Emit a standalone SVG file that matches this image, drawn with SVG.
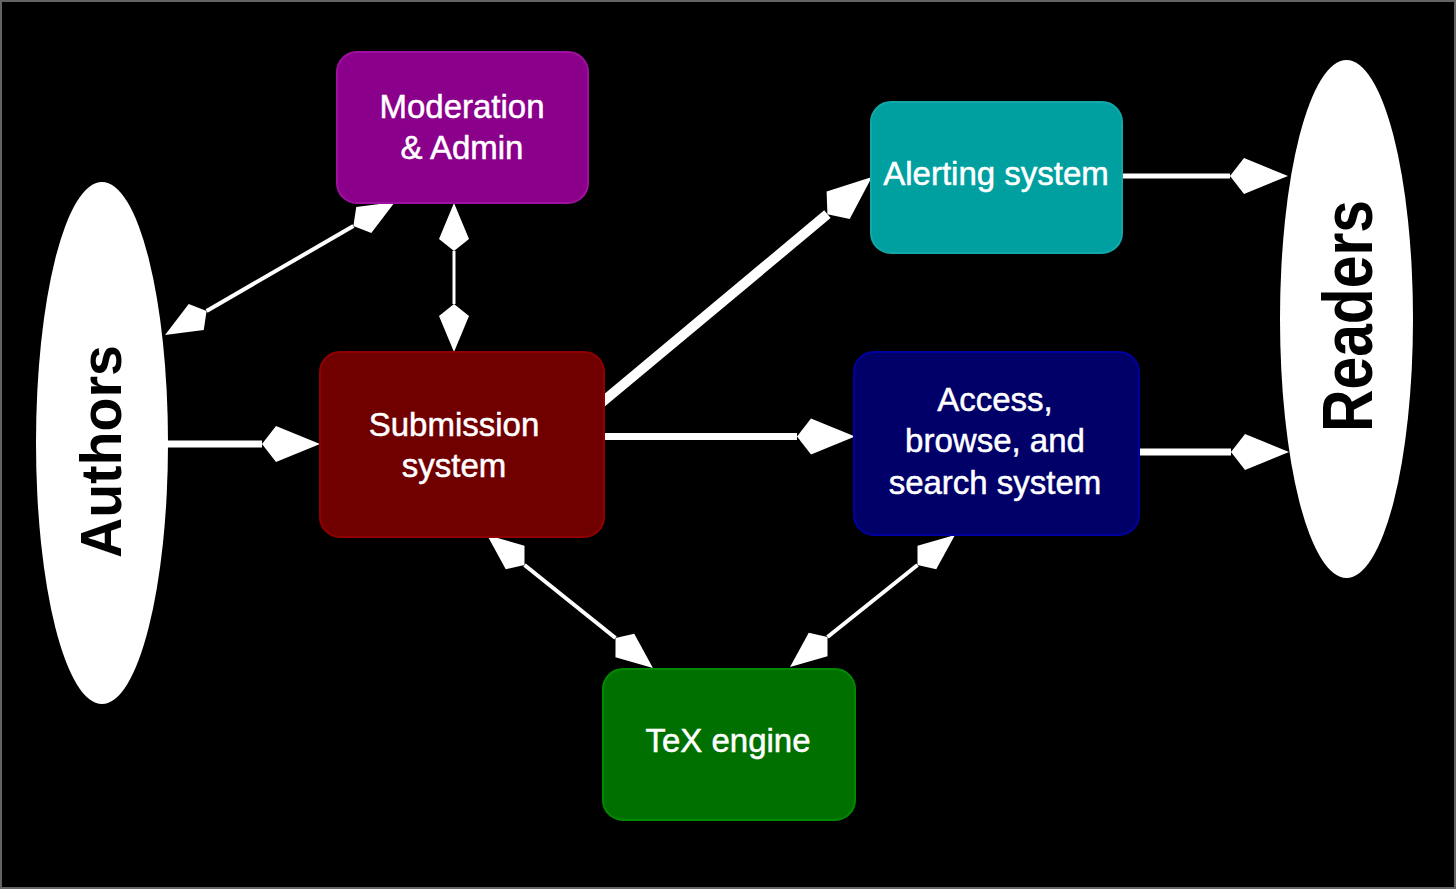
<svg xmlns="http://www.w3.org/2000/svg" width="1456" height="889" viewBox="0 0 1456 889">
<style>
.box{stroke-width:2}
.lbl{font-family:"Liberation Sans",Arial,sans-serif;font-size:33px;fill:#fff;stroke:#fff;stroke-width:0.5;text-anchor:middle}
.big{font-family:"Liberation Sans",Arial,sans-serif;font-weight:bold;fill:#000;text-anchor:middle}
.ell{fill:#fff}
.c{stroke:#fff;fill:none;stroke-linecap:butt}
</style>
<defs>
<marker id="hs" markerUnits="userSpaceOnUse" markerWidth="50" markerHeight="40" refX="0" refY="20" orient="auto-start-reverse" overflow="visible">
<path d="M0,20 L12,5 L48,20 L12,35 Z" fill="#fff"/>
</marker>
<marker id="hl" markerUnits="userSpaceOnUse" markerWidth="60" markerHeight="40" refX="0" refY="20" orient="auto-start-reverse" overflow="visible">
<path d="M0,20 L14,2 L58,20 L14,38 Z" fill="#fff"/>
</marker>
</defs>
<rect x="1" y="1" width="1454" height="887" fill="#000" stroke="#646464" stroke-width="2"/>

<g id="connectors">
<path class="c" d="M206.6,311 L353.4,226" stroke-width="4" marker-start="url(#hs)" marker-end="url(#hs)"/>
<path class="c" d="M454,251 L454,304" stroke-width="3" marker-start="url(#hs)" marker-end="url(#hs)"/>
<path class="c" d="M166,444 L262,444" stroke-width="7" marker-end="url(#hl)"/>
<path class="c" d="M600,404 L827.4,214.2" stroke-width="10" marker-end="url(#hl)"/>
<path class="c" d="M603,436.5 L797,436.5" stroke-width="7" marker-end="url(#hl)"/>
<path class="c" d="M1121,176 L1230,176" stroke-width="5" marker-end="url(#hl)"/>
<path class="c" d="M1138,452 L1231,452" stroke-width="7" marker-end="url(#hl)"/>
<path class="c" d="M524.5,565 L615.5,638" stroke-width="4" marker-start="url(#hs)" marker-end="url(#hs)"/>
<path class="c" d="M917.5,565 L827.5,637" stroke-width="4" marker-start="url(#hs)" marker-end="url(#hs)"/>
</g>

<g id="authors">
<ellipse class="ell" cx="102" cy="443" rx="66" ry="261"/>
<text class="big" transform="translate(121,451.5) rotate(-90)" x="0" y="0" font-size="58" textLength="213" lengthAdjust="spacingAndGlyphs">Authors</text>
</g>

<g id="readers">
<ellipse class="ell" cx="1346.5" cy="319" rx="66.5" ry="259"/>
<text class="big" transform="translate(1372,316) rotate(-90)" x="0" y="0" font-size="70" textLength="232" lengthAdjust="spacingAndGlyphs">Readers</text>
</g>

<g id="moderation">
<rect class="box" x="337" y="52" width="251" height="151" rx="20" fill="#8B008B" stroke="#A010A0"/>
<text class="lbl" x="462" y="118">Moderation</text>
<text class="lbl" x="462" y="159">&amp; Admin</text>
</g>

<g id="submission">
<rect class="box" x="320" y="352" width="284" height="185" rx="20" fill="#700000" stroke="#900000"/>
<text class="lbl" x="454" y="436">Submission</text>
<text class="lbl" x="454" y="477">system</text>
</g>

<g id="alerting">
<rect class="box" x="871" y="102" width="251" height="151" rx="20" fill="#00A0A0" stroke="#10A8A8"/>
<text class="lbl" x="996" y="185">Alerting system</text>
</g>

<g id="access">
<rect class="box" x="854" y="352" width="285" height="183" rx="20" fill="#000068" stroke="#0000A0"/>
<text class="lbl" x="995" y="411">Access,</text>
<text class="lbl" x="995" y="452">browse, and</text>
<text class="lbl" x="995" y="494">search system</text>
</g>

<g id="tex">
<rect class="box" x="603" y="669" width="252" height="151" rx="20" fill="#007000" stroke="#008A00"/>
<text class="lbl" x="728" y="752">TeX engine</text>
</g>
</svg>
